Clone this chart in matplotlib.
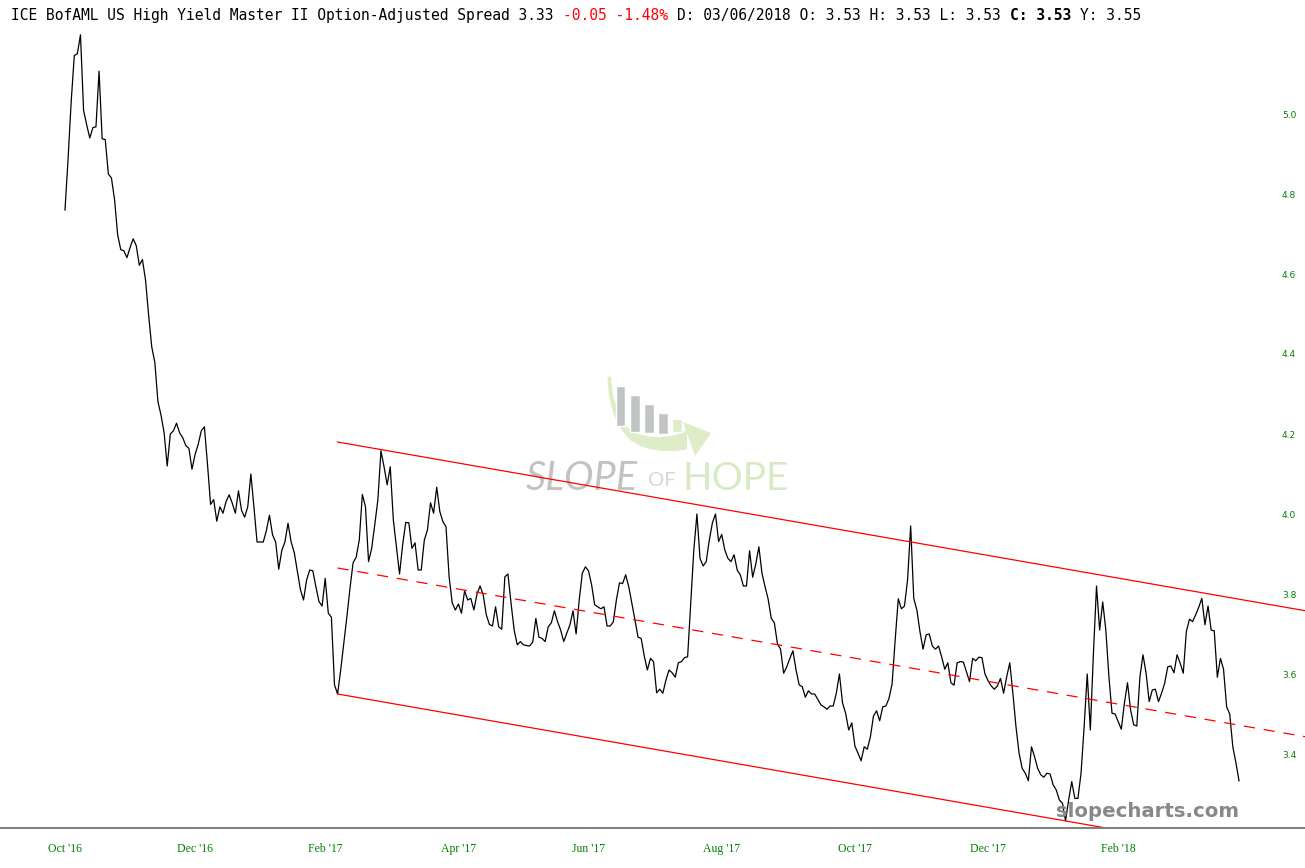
import numpy as np
import pandas as pd
import matplotlib
matplotlib.use("Agg")
import matplotlib.pyplot as plt
from matplotlib.patches import Polygon, Rectangle

# daily option-adjusted spread (Oct '16 .. Mar '18)
spread = [
    4.760, 4.889, 5.031, 5.146, 5.151, 5.198, 5.009, 4.973, 4.940, 4.966,
    4.968, 5.107, 4.938, 4.936, 4.850, 4.840, 4.786, 4.698, 4.661, 4.658,
    4.641, 4.666, 4.688, 4.671, 4.622, 4.636, 4.585, 4.497, 4.418, 4.379,
    4.281, 4.247, 4.203, 4.120, 4.200, 4.208, 4.227, 4.203, 4.191, 4.171,
    4.164, 4.112, 4.149, 4.174, 4.208, 4.218, 4.125, 4.024, 4.036, 3.982,
    4.018, 4.002, 4.031, 4.048, 4.027, 4.002, 4.058, 4.009, 3.992, 4.018,
    4.100, 4.017, 3.930, 3.930, 3.930, 3.958, 3.997, 3.948, 3.930, 3.862,
    3.909, 3.930, 3.977, 3.930, 3.904, 3.858, 3.811, 3.785,
    3.835, 3.860, 3.858, 3.818, 3.781, 3.770, 3.839, 3.752, 3.742, 3.573,
    3.550, 3.610, 3.677, 3.743, 3.814, 3.878, 3.892, 3.935, 4.049, 4.018,
    3.881, 3.914, 3.973, 4.035, 4.158, 4.118, 4.073, 4.118, 3.985, 3.918,
    3.850, 3.923, 3.979, 3.978, 3.914, 3.928, 3.860, 3.860, 3.935, 3.960,
    4.028, 4.002, 4.067, 4.006, 3.981, 3.968, 3.843, 3.778, 3.760, 3.775,
    3.752, 3.808, 3.785, 3.789, 3.760, 3.800, 3.820, 3.798, 3.748, 3.724,
    3.720, 3.768, 3.718, 3.712, 3.843, 3.850, 3.777, 3.710, 3.673, 3.681,
    3.673, 3.671, 3.670, 3.680, 3.739, 3.692, 3.689, 3.681, 3.718, 3.728,
    3.758, 3.731, 3.710,
    3.681, 3.702, 3.723, 3.758, 3.700, 3.785, 3.852, 3.868, 3.858, 3.823,
    3.773, 3.768, 3.763, 3.768, 3.720, 3.720, 3.730, 3.785, 3.828, 3.826,
    3.848, 3.818, 3.777, 3.735, 3.692, 3.689, 3.645, 3.610, 3.639, 3.631,
    3.553, 3.562, 3.552, 3.585, 3.610, 3.603, 3.592, 3.628, 3.631, 3.641,
    3.643, 3.777, 3.910, 4.000, 3.889, 3.870, 3.881, 3.935, 3.978, 4.000,
    3.931, 3.949, 3.910, 3.889, 3.881, 3.898, 3.860, 3.848, 3.820, 3.820,
    3.908, 3.842, 3.875, 3.918, 3.852, 3.818, 3.787, 3.739, 3.728, 3.675,
    3.662, 3.602, 3.618, 3.639, 3.658, 3.610, 3.573, 3.568, 3.542, 3.558,
    3.550,
    3.550, 3.537, 3.523, 3.518, 3.512, 3.520, 3.520, 3.552, 3.600, 3.528,
    3.502, 3.460, 3.478, 3.420, 3.402, 3.383, 3.418, 3.412, 3.443, 3.495,
    3.508, 3.483, 3.518, 3.520, 3.539, 3.575, 3.685, 3.788, 3.763, 3.770,
    3.835, 3.970, 3.789, 3.760, 3.706, 3.662, 3.698, 3.700, 3.670, 3.662,
    3.670, 3.643, 3.612, 3.628, 3.578, 3.572, 3.628, 3.631, 3.630, 3.606,
    3.581, 3.639, 3.633, 3.642, 3.641, 3.600, 3.583, 3.570, 3.562, 3.570,
    3.589, 3.552, 3.593, 3.628, 3.552, 3.468, 3.402, 3.364, 3.352, 3.333,
    3.418, 3.393, 3.364, 3.348,
    3.342, 3.352, 3.350, 3.323, 3.310, 3.285, 3.277, 3.233, 3.285, 3.331,
    3.289, 3.289, 3.352, 3.468, 3.600, 3.460, 3.652, 3.820, 3.710, 3.780,
    3.710, 3.593, 3.502, 3.500, 3.481, 3.462, 3.527, 3.578, 3.510, 3.473,
    3.470, 3.592, 3.648, 3.602, 3.531, 3.560, 3.562, 3.531, 3.552, 3.577,
    3.618, 3.620, 3.603, 3.648, 3.627, 3.602, 3.706, 3.737, 3.731, 3.748,
    3.767, 3.789, 3.723, 3.770, 3.710, 3.708, 3.592, 3.639, 3.612, 3.518,
    3.500, 3.418, 3.378, 3.333,
]
closed_days = ["2016-11-24", "2016-12-26", "2017-01-02", "2017-04-14",
               "2017-09-04", "2017-11-23", "2017-12-25", "2018-01-01"]
tick_months = ["2016-10", "2016-12", "2017-02", "2017-04", "2017-06",
               "2017-08", "2017-10", "2017-12", "2018-02"]
y_ticks = [3.4, 3.6, 3.8, 4.0, 4.2, 4.4, 4.6, 4.8, 5.0]

# trend channel drawn on the chart (bar index, value)
channel_x = [88, 402]
channel_upper = [4.18, 3.756]
channel_lower = [3.55, 3.126]

header = [
    ("ICE BofAML US High Yield Master II Option-Adjusted Spread 3.33 ", "black", "normal"),
    ("-0.05 -1.48%", "#ff0000", "normal"),
    (" D: 03/06/2018 O: 3.53 H: 3.53 L: 3.53 ", "black", "normal"),
    ("C: 3.53", "black", "bold"),
    (" Y: 3.55", "black", "normal"),
]

W, H = 1305, 868
fig = plt.figure(figsize=(W / 100, H / 100), dpi=100, facecolor="white")

# watermark layer in pixel coords, behind the chart
deco = fig.add_axes([0, 0, 1, 1], zorder=-1)
deco.set_xlim(0, W)
deco.set_ylim(H, 0)
deco.axis("off")
green_wm = "#dcedc8"
arc = [(607.5, 376.7), (608.5, 392), (610.7, 404), (615, 418), (622.3, 431),
       (630, 440), (640, 446), (651, 449.5), (663, 451), (675, 451), (687, 449.5),
       (687, 430), (678, 434), (670, 436), (660, 437), (650, 436.7), (640, 434.5),
       (631.7, 431.7), (624, 423), (618, 411), (613, 395), (611, 376.7)]
deco.add_patch(Polygon(arc, closed=True, fc=green_wm, ec="none"))
deco.add_patch(Polygon([(683, 422), (711, 433), (695, 456)], closed=True,
                       fc=green_wm, ec="none"))
bars = [(615.7, 386, 426), (630, 395, 432), (644, 404, 433), (658, 413, 434)]
for x0, top, bot in bars:
    deco.add_patch(Rectangle((x0, top), 9.5, bot - top, fc="#c1c4c5", ec="white", lw=1))
deco.add_patch(Rectangle((672, 419), 9.5, 13, fc=green_wm, ec="white", lw=1))
deco.text(526, 490, "SLOPE", fontsize=28.5, family="Lato", style="italic",
          color="#c2c2c2", va="baseline")
deco.text(648, 486, "OF", fontsize=14.5, family="Lato", color="#d6d6d6",
          va="baseline")
deco.text(682, 490, "HOPE", fontsize=28, family="Lato", color="#d8eac4",
          va="baseline")

# main chart
ax = fig.add_axes([0, 40 / H, 1, 828 / H], zorder=0)
ax.patch.set_alpha(0)
n = len(spread)
xs = np.arange(n)
ax.plot(xs, spread, color="black", lw=0.9)

up = np.array(channel_upper)
lo = np.array(channel_lower)
ax.plot(channel_x, up, color="#ff0000", lw=0.9)
ax.plot(channel_x, lo, color="#ff0000", lw=0.9)
ax.plot(channel_x, (up + lo) / 2, color="#ff0000", lw=0.9, dashes=(9, 7))

ax.set_xlim(-20.98, 400.3)
ax.set_ylim(3.215, 5.285)

dates = pd.bdate_range("2016-10-03", periods=n, freq="C", holidays=closed_days)
tick_pos, tick_lab = [], []
for m in tick_months:
    i = int(np.searchsorted(dates, pd.Timestamp(m + "-01")))
    tick_pos.append(i)
    tick_lab.append(dates[i].strftime("%b '%y"))
ax.set_xticks(tick_pos)
ax.set_xticklabels(tick_lab, family="Liberation Serif", fontsize=8.5, color="green")
ax.tick_params(axis="x", length=0, pad=10.5)

ax.yaxis.tick_right()
ax.set_yticks(y_ticks)
ax.set_yticklabels([f"{v:.1f}" for v in y_ticks], family="DejaVu Sans",
                   fontsize=6.5, color="green")
ax.tick_params(axis="y", length=0, pad=-16.6)

for s in ["top", "left", "right"]:
    ax.spines[s].set_visible(False)
ax.spines["bottom"].set_color("#808080")
ax.spines["bottom"].set_linewidth(1.5)

# header line, monospace so segments line up by character count
adv = 8.76
pos = 0
for text, color, weight in header:
    lead = len(text) - len(text.lstrip())
    fig.text((11 + (pos + lead) * adv) / W, 1 - 20 / H, text.strip(),
             family="DejaVu Sans Mono", fontsize=10.5, color=color,
             weight=weight, va="baseline")
    pos += len(text)

fig.text(1056 / W, 1 - 817 / H, "slopecharts.com", family="DejaVu Sans",
         weight="bold", fontsize=14.2, color="#888888", va="baseline", zorder=10)

fig.savefig("out.png", dpi=100, facecolor="white")
